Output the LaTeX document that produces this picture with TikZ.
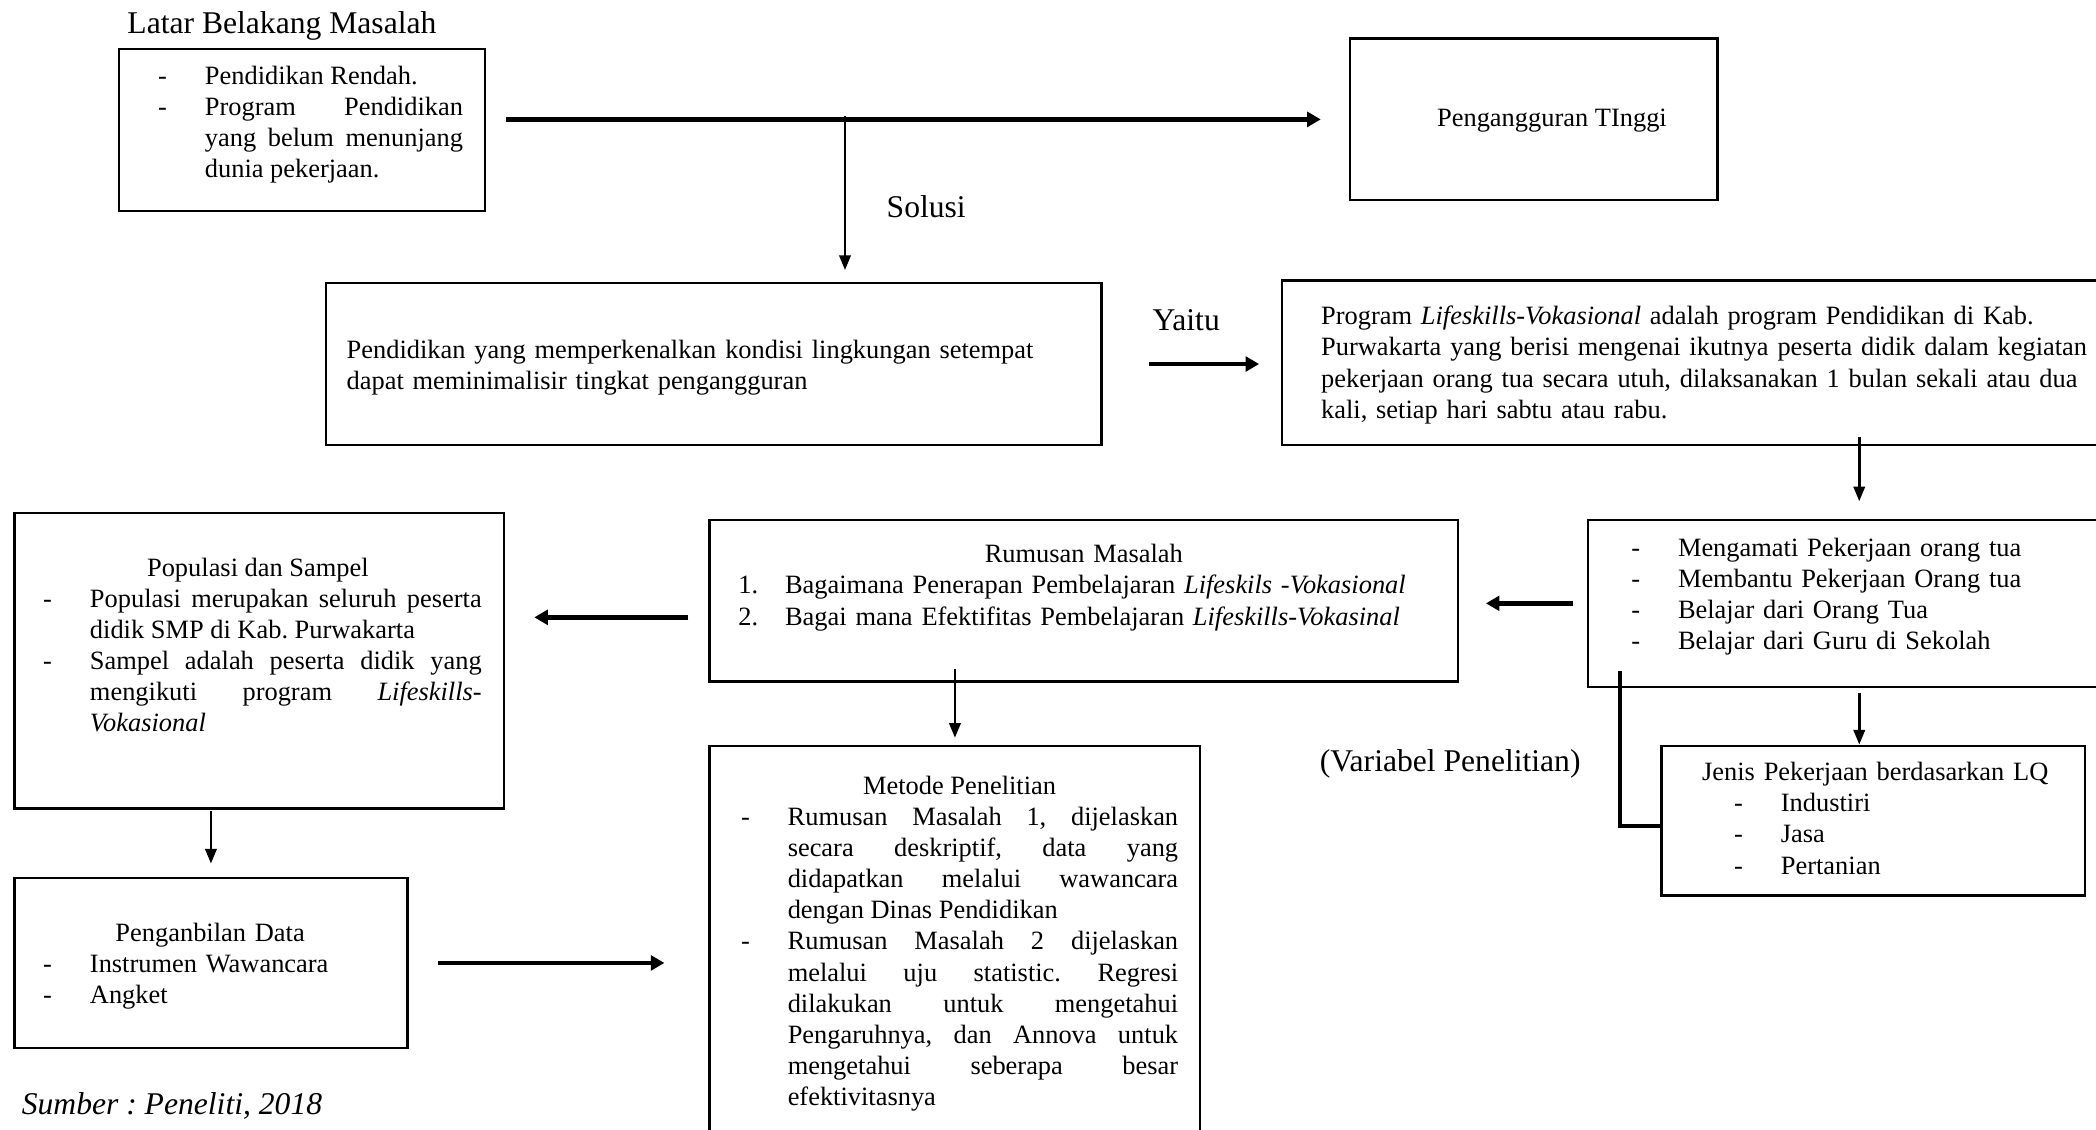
\documentclass[tikz,border=0pt]{standalone}
\usepackage{fontspec}
\setmainfont{Liberation Serif}
\usetikzlibrary{arrows.meta}

\definecolor{cLine}{gray}{0.0}
\definecolor{cText}{gray}{0.0}

\hyphenpenalty=10000
\tolerance=10000
\frenchspacing

% one list line: label in a fixed box, hanging text
\newcommand{\pointline}[3][20.7pt]{\hangindent=#1\hangafter=1\noindent\makebox[#1][l]{#2}#3\par}

\tikzset{
  box/.style={draw=cLine, line width=1pt, rectangle, anchor=north west, inner sep=0pt},
  boxtext/.style={anchor=base west, inner sep=0pt, text=cText, font=\fontsize{11.7}{13.8}\selectfont},
  headtext/.style={anchor=base west, inner sep=0pt, text=cText, font=\fontsize{14}{16.1}\selectfont},
  bigarrow/.style={draw=cLine, line width=2pt, -{Triangle[length=6pt, width=6.5pt]}},
  thinarrow/.style={draw=cLine, line width=1.2pt, -{Triangle[length=6.5pt, width=5pt]}},
  linkline/.style={draw=cLine, line width=1.6pt},
}

\begin{document}
\begin{tikzpicture}[x=0.592pt, y=-0.592pt]

\useasboundingbox (0,0) rectangle (1568,845);

% ── Boxes ──
\node[box, minimum width=162.2pt, minimum height=71.6pt] (latar) at (88,36) {};
\node[box, minimum width=162.8pt, minimum height=71.6pt] (peng) at (1009,28) {};
\node[box, minimum width=343.4pt, minimum height=71.6pt] (pend) at (243,211) {};
\node[box, minimum width=380pt, minimum height=72.8pt] (prog) at (958,209) {};
\node[box, minimum width=240.4pt, minimum height=74pt] (kegiatan) at (1187,388) {};
\node[box, minimum width=331.5pt, minimum height=71.6pt] (rumusan) at (530,388) {};
\node[box, minimum width=216.7pt, minimum height=130.8pt] (populasi) at (10,383) {};
\node[box, minimum width=174pt, minimum height=75.2pt] (data) at (10,656) {};
\node[box, minimum width=217.3pt, minimum height=177.6pt] (metode) at (530,557) {};
\node[box, minimum width=187.7pt, minimum height=66.3pt] (jenis) at (1242,557) {};

% ── Free labels ──
\node[headtext] (latar-head) at (95,25) {Latar Belakang Masalah};
\node[headtext] (solusi) at (663,163) {Solusi};
\node[headtext] (yaitu) at (862,247) {Yaitu};
\node[headtext] (variabel) at (987,577) {(Variabel Penelitian)};
\node[headtext, font=\fontsize{14}{16.1}\selectfont\itshape] (sumber) at (16,834) {Sumber : Peneliti, 2018};

% ── Box texts ──
\node[boxtext, text width=135pt, align=justify] (latar-txt) at (118,63) {%
  \pointline{-}{Pendidikan Rendah.}%
  \pointline{-}{Program Pendidikan\linebreak yang belum menunjang\linebreak dunia pekerjaan.}};

\node[boxtext, anchor=base] (peng-txt) at (1161,95) {Pengangguran TInggi};

\node[boxtext, text width=320pt, align=left] (pend-txt) at (259,268)
  {Pendidikan yang memperkenalkan kondisi lingkungan setempat\\ dapat meminimalisir tingkat pengangguran};

\node[boxtext, text width=350pt, align=left] (prog-txt) at (988,243)
  {Program \textit{Lifeskills-Vokasional} adalah program Pendidikan di Kab.\\
   Purwakarta yang berisi mengenai ikutnya peserta didik dalam kegiatan\\
   pekerjaan orang tua secara utuh, dilaksanakan 1 bulan sekali atau dua\\
   kali, setiap hari sabtu atau rabu.};

\node[boxtext, text width=220pt, align=left] (kegiatan-txt) at (1220,416) {%
  \pointline{-}{Mengamati Pekerjaan orang tua}%
  \pointline{-}{Membantu Pekerjaan Orang tua}%
  \pointline{-}{Belajar dari Orang Tua}%
  \pointline{-}{Belajar dari Guru di Sekolah}};

\node[boxtext, text width=306pt, align=left] (rumusan-txt) at (552,421) {%
  {\centering Rumusan Masalah\par}%
  \pointline{1.}{Bagaimana Penerapan Pembelajaran \textit{Lifeskils -Vokasional}}%
  \pointline{2.}{Bagai mana Efektifitas Pembelajaran \textit{Lifeskills-Vokasinal}}};

\node[boxtext, text width=194.2pt, align=justify] (populasi-txt) at (32,431) {%
  \hspace*{46pt}Populasi dan Sampel\par
  \pointline{-}{Populasi merupakan seluruh peserta\linebreak didik SMP di Kab. Purwakarta}%
  \pointline{-}{Sampel adalah peserta didik yang\linebreak mengikuti program \textit{Lifeskills-}\linebreak\textit{Vokasional}}};

\node[boxtext, text width=200pt, align=left] (data-txt) at (32,704) {%
  \hspace*{32pt}Penganbilan Data\par
  \pointline{-}{Instrumen Wawancara}%
  \pointline{-}{Angket}};

\node[boxtext, text width=193.6pt, align=justify] (metode-txt) at (554,594) {%
  {\centering Metode Penelitian\par}%
  \pointline{-}{Rumusan Masalah 1, dijelaskan\linebreak secara deskriptif, data yang\linebreak didapatkan melalui wawancara\linebreak dengan Dinas Pendidikan}%
  \pointline{-}{Rumusan Masalah 2 dijelaskan\linebreak melalui uju statistic. Regresi\linebreak dilakukan untuk mengetahui\linebreak Pengaruhnya, dan Annova untuk\linebreak mengetahui seberapa besar\linebreak efektivitasnya}};

\node[boxtext, text width=180pt, align=left] (jenis-txt) at (1273,584) {%
  Jenis Pekerjaan berdasarkan LQ\par
  \leftskip=14.2pt
  \pointline{-}{Industiri}%
  \pointline{-}{Jasa}%
  \pointline{-}{Pertanian}};

% ── Connectors ──
\draw[bigarrow, shorten <=8.9pt, shorten >=12.4pt] (latar.east |- peng.west)
  -- coordinate[pos=0.416] (fork) (peng.west);
\draw[thinarrow, shorten <=-1.5pt, shorten >=5.3pt] (fork) -- (fork |- pend.north);
\draw[bigarrow, shorten <=20.7pt, shorten >=9.5pt] (pend.east) -- (pend.east -| prog.west);
\draw[thinarrow, shorten <=-4.1pt, shorten >=7.7pt] (kegiatan.north |- prog.south) -- (kegiatan.north);
\draw[bigarrow, shorten <=5.9pt, shorten >=11.8pt] (kegiatan.west) -- (kegiatan.west -| rumusan.east);

\coordinate (rumusan-out) at ([yshift=-7.4pt]rumusan.west);
\draw[bigarrow, shorten <=8.9pt, shorten >=13pt] (rumusan-out) -- (rumusan-out -| populasi.east);

\draw[thinarrow, shorten <=0.6pt, shorten >=5.9pt] (data.north |- populasi.south) -- (data.north);
\draw[bigarrow, shorten <=13pt, shorten >=19.5pt] (data.east) -- (data.east -| metode.west);
\draw[thinarrow, shorten <=-5.9pt, shorten >=3pt] (metode.north |- rumusan.south) -- (metode.north);
\draw[thinarrow, shorten <=2.4pt] (kegiatan.south) -- (kegiatan.south |- jenis.north);
\draw[linkline] ([xshift=14.8pt, yshift=7.7pt]kegiatan.south west) |- ([yshift=-2.4pt]jenis.west);

\end{tikzpicture}
\end{document}
